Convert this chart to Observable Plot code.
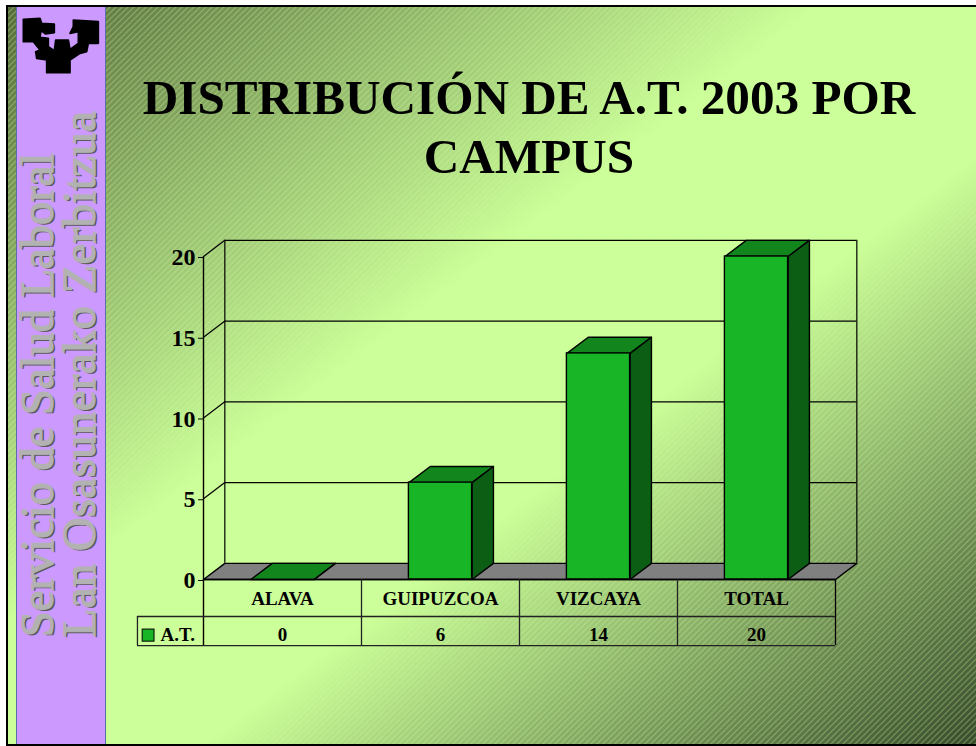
<!DOCTYPE html>
<html lang="es">
<head>
<meta charset="utf-8">
<script src="https://cdn.jsdelivr.net/npm/d3@7"></script>
<script src="https://cdn.jsdelivr.net/npm/@observablehq/plot@0.6"></script>
<style>
html,body{margin:0;padding:0;width:976px;height:746px;overflow:hidden;background:#fff;}
#slide{position:absolute;left:6px;top:5px;width:970px;height:741px;box-sizing:border-box;
  border-left:2px solid #000;border-top:2px solid #000;border-bottom:2px solid #000;
  background:
    url("data:image/svg+xml,%3Csvg xmlns='http://www.w3.org/2000/svg' width='6' height='6'%3E%3Cpath d='M-1 7L7 -1M-1 1L1 -1M5 7L7 5' stroke='%23ccff99' stroke-opacity='.3' stroke-width='1.3'/%3E%3C/svg%3E") 0 0/6px 6px repeat,
    linear-gradient(to bottom right,#566b3c 0%,#ccff99 42%,#ccff99 60%,#384a2c 100%);}
#side{position:absolute;left:16px;top:7px;width:90px;height:737px;box-sizing:border-box;background:#cc99ff;
  border-left:1px solid #5a6fa8;border-right:1px solid #5a6fa8;}
.st{position:absolute;left:0;top:0;white-space:nowrap;font:46.5px "Liberation Serif",serif;color:#b2b2b2;
  -webkit-text-stroke:1.2px #b2b2b2;text-shadow:-1.5px 1.5px 0 #5a5a5a;transform-origin:0 0;}
#logo{position:absolute;left:15px;top:10px;}
h1{position:absolute;left:106px;top:68px;width:846px;margin:0;text-align:center;
  font:bold 49.2px/59px "Liberation Serif",serif;color:#000;}
#chart{position:absolute;left:0;top:0;}
#chart svg{background:transparent;display:block;}
</style>
</head>
<body>
<div id="slide"></div>
<div id="side"></div>
<div class="st" style="letter-spacing:0;transform:translate(53px,637px) rotate(-90deg) translateY(-42px)">Servicio de Salud Laboral</div>
<div class="st" style="letter-spacing:.5px;transform:translate(95px,637px) rotate(-90deg) translateY(-42px)">Lan Osasunerako Zerbitzua</div>
<svg id="logo" width="90" height="70" viewBox="0 0 270 210"><path fill="#000" stroke="#000" stroke-width="5" stroke-linejoin="round" d="M25 28L75 25L80 40L118 42L118 68L92 72L78 62L75 82L100 85L100 110L118 122L122 90L160 90L165 118L190 100L190 65L165 70L175 50L175 30L250 35L250 100L220 100L215 125L195 130L165 150L165 188L95 188L95 150L65 145L62 125L75 120L55 95L25 95Z"/></svg>
<h1>DISTRIBUCIÓN DE A.T. 2003 POR<br>CAMPUS</h1>
<div id="chart"></div>
<script>
const categories = ["ALAVA", "GUIPUZCOA", "VIZCAYA", "TOTAL"];
const values = [0, 6, 14, 20];
const yTicks = [0, 5, 10, 15, 20];
const seriesName = "A.T.";

// Pseudo-3D depth and table rows, in data units of the x and y scales
const depthX = 0.135, depthY = 1, barLeft = 0.3, barWidth = 0.4;
const rowLine = -2.29, rowBottom = -4.09, rowCat = -1.18, rowVal = -3.4, legendLeft = -0.418;
const n = categories.length;

const rows = categories.map((c, i) => ({c, i, v: values[i], x1: i + barLeft, x2: i + barLeft + barWidth}));
const close = (id, pts) => [...pts, pts[0]].map(([x, y]) => ({id, x, y}));
const topFaces = rows.flatMap(d => close(d.c, [[d.x1, d.v], [d.x2, d.v], [d.x2 + depthX, d.v + depthY], [d.x1 + depthX, d.v + depthY]]));
const sideFaces = rows.flatMap(d => close(d.c, [[d.x2, 0], [d.x2, d.v], [d.x2 + depthX, d.v + depthY], [d.x2 + depthX, depthY]]));
const floorFace = close("floor", [[0, 0], [n, 0], [n + depthX, depthY], [depthX, depthY]]);
const poly = (data, fill, extra = {}) => Plot.line(data, {x: "x", y: "y", z: "id", fill, stroke: "#000", strokeWidth: 1.4, curve: "linear", ...extra});
const ink = "#000";
const tableText = {fontSize: 19, fontWeight: "bold", fontFamily: "Liberation Serif", fill: "#000"};

const plot = Plot.plot({
  width: 976, height: 746,
  marginLeft: 203, marginRight: 141, marginTop: 256, marginBottom: 167,
  style: {background: "transparent", overflow: "visible"},
  x: {type: "linear", domain: [0, n], axis: null},
  y: {type: "linear", domain: [0, 20], axis: null},
  marks: [
    // back wall
    Plot.ruleY(yTicks.slice(1), {y: d => d + depthY, x1: depthX, x2: n + depthX, stroke: ink, strokeWidth: 1.2, strokeOpacity: 1}),
    Plot.ruleX([depthX, n + depthX], {y1: depthY, y2: 20 + depthY, stroke: ink, strokeWidth: 1.2, strokeOpacity: 1}),
    // side wall
    Plot.link(yTicks.slice(1), {x1: 0, y1: d => d, x2: depthX, y2: d => d + depthY, stroke: ink, strokeWidth: 1.2, strokeOpacity: 1}),
    Plot.ruleX([0], {y1: rowBottom, y2: 20, stroke: ink, strokeWidth: 1.4, strokeOpacity: 1}),
    // floor
    poly(floorFace, "#808080"),
    // bars
    poly(topFaces, "#12861c"),
    poly(sideFaces, "#0b5e13"),
    Plot.rect(rows, {x1: "x1", x2: "x2", y1: 0, y2: "v", fill: "#18b526", stroke: "#000", strokeWidth: 1.4}),
    // axis
    Plot.axisY({ticks: yTicks, tickSize: 5, tickPadding: 3, label: null, fontSize: 24, fontWeight: "bold",
      fontFamily: "Liberation Serif", stroke: ink, fill: "#000", dy: 1}),
    // data table
    Plot.ruleY([0], {x1: 0, x2: n, stroke: "#000", strokeWidth: 1.6, strokeOpacity: 1}),
    Plot.ruleY([rowLine, rowBottom], {x1: legendLeft, x2: n, stroke: "#222", strokeWidth: 1.3, strokeOpacity: 1}),
    Plot.ruleX([1, 2, 3], {y1: rowBottom, y2: 0, stroke: "#222", strokeWidth: 1.3, strokeOpacity: 1}),
    Plot.ruleX([n], {y1: rowBottom, y2: 0, stroke: "#000", strokeWidth: 1.3, strokeOpacity: 1}),
    Plot.ruleX([legendLeft], {y1: rowBottom, y2: rowLine, stroke: "#222", strokeWidth: 1.3, strokeOpacity: 1}),
    Plot.text(rows, {x: d => d.i + 0.5, y: rowCat, text: "c", ...tableText}),
    Plot.text(rows, {x: d => d.i + 0.5, y: rowVal, text: d => String(d.v), ...tableText}),
    Plot.rect([seriesName], {x1: -0.385, x2: -0.31, y1: -3.1, y2: -3.85, fill: "#18b526", stroke: "#000", strokeWidth: 1}),
    Plot.text([seriesName], {x: -0.272, y: rowVal, text: d => d, textAnchor: "start", ...tableText})
  ]
});
document.getElementById("chart").appendChild(plot);
</script>
</body>
</html>
